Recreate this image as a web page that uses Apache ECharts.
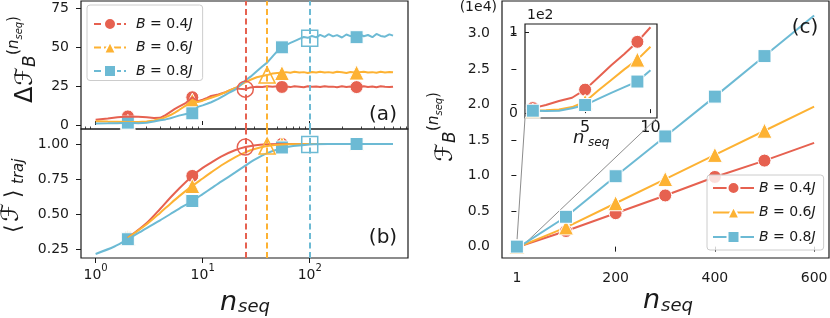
<!DOCTYPE html>
<html><head><meta charset="utf-8">
<script src="https://cdn.jsdelivr.net/npm/echarts@6/dist/echarts.min.js"></script>
<style>html,body{margin:0;padding:0;background:#fff}#c{width:830px;height:318px}</style>
</head><body><div id="c"></div>
<script>
// ---------------- DATA ----------------
const names = ['B = 0.4J', 'B = 0.6J', 'B = 0.8J'];

// panel (a): ΔF_B vs n_seq (shared n grid)
const nA = [1,1.3,1.6,2,2.5,3,3.5,4,4.5,5, 5.5,6,7,8,9,10,11,12,14,16, 18,20,22,25,28,32,36,40,45,50,
            55,60,66,72,80,88,96,105,115,125, 138,150,165,180,200,220,240,265,290,320, 350,385,420,460,505,555,600];
const aRed = [3.4,4.2,4.9,5.4,5.3,5.0,4.5,4.6,6.3,8.4, 10.3,11.8,14.2,17.8,15.3,16.2,17.4,18.6,19.6,20.8,
              22.4,23.6,23.3,23.0,24.1,24.6,24.3,24.8,24.5,24.9, 24.4,24.7,24.3,24.9,24.6,24.2,24.8,24.5,24.7,24.3,
              24.9,24.5,24.6,24.2,24.8,24.4,24.7,24.3,24.6,24.9, 24.4,24.7,24.2,24.8,24.5,24.3,24.6];
const aOrange = [2.4,2.2,2.1,2.0,2.0,2.2,2.9,3.8,5.0,6.4, 8.0,9.6,12.6,15.6,14.8,15.6,16.6,17.5,19.0,20.8,
                 22.4,23.6,25.0,27.4,29.0,30.6,31.4,32.0,33.0,33.4, 33.3,33.9,33.5,34.1,33.6,33.9,33.4,34.0,33.7,34.2,
                 33.6,33.9,33.5,34.1,33.8,33.4,34.0,33.6,33.9,34.2, 33.7,33.9,33.5,34.1,33.7,34.0,33.8];
const aBlue = [1.0,1.1,1.2,1.5,1.2,1.5,2.2,3.0,3.6,4.3, 5.2,6.0,7.0,7.5,11.6,12.6,13.6,14.6,16.8,19.0,
               21.0,22.6,25.0,28.5,31.0,34.5,37.5,40.0,44.0,47.5, 49.8,51.2,52.6,53.8,55.2,56.4,55.9,57.1,56.2,57.8,
               56.5,58.2,56.8,57.6,56.1,58.0,57.0,56.4,58.3,56.9, 57.7,56.3,58.4,57.1,56.6,58.1,57.3];
const markN = [2, 8, 55, 274];
const aMarkRed = [5.5, 17.8, 24.4, 24.3];
const aMarkOrange = [2.0, 15.6, 33.3, 33.6];
const aMarkBlue = [1.5, 7.5, 49.8, 56.3];
const critN = [25, 40, 100];          // red, orange, blue critical n_seq
const aCrit = [23.0, 32.0, 55.6];

// panel (b): <F>_traj vs n_seq
const bNRO = [2,3,4,5,6,8,10,12,15,20,25,30,40,55,100,274,600];
const bRed = [0.33,0.436,0.536,0.618,0.681,0.772,0.829,0.867,0.912,0.955,0.978,0.99,0.998,1.0,1.0,1.0,1.0];
const bOrange = [0.33,0.427,0.508,0.574,0.626,0.701,0.754,0.797,0.848,0.905,0.94,0.962,0.985,0.997,1.0,1.0,1.0];
const bNB = [1,1.5,2,3,4,5,6,8,10,12,15,20,25,30,40,55,70,100,150,274,600];
const bBlue = [0.215,0.268,0.32,0.40,0.455,0.50,0.537,0.593,0.642,0.683,0.733,0.795,0.845,0.885,0.935,0.97,0.985,0.997,1.0,1.0,1.0];
const bMarkRed = [0.33, 0.772, 1.0, 1.0];
const bMarkOrange = [0.33, 0.70, 1.0, 1.0];
const bMarkBlue = [0.32, 0.593, 0.975, 1.0];
const bCrit = [0.978, 0.985, 0.997];

// panel (c): F_B vs n_seq (inset uses the first ten points)
const cN = [1,2,3,4,5,6,7,8,9,10,100,200,300,400,500,600];
const cRed = [6.2,10,15,19,29,44,59,73,88,106,2200,4700,7200,9800,12100,14600];
const cOrange = [3,3.5,4.5,7.5,14,28,41,54,66,82,2700,6100,9500,12900,16300,19700];
const cBlue = [3,2.5,3,6,10,17.5,25,32,39,53,4200,9900,15500,21100,26800,32500];
const cMarkN = [1,100,200,300,400,500];
const insetMarkN = [1,5,9];

// ticks
const logMajor = [1, 10, 100];
const logMinor = [0.8,0.9,2,3,4,5,6,7,8,9,20,30,40,50,60,70,80,90,200,300,400,500,600,700,800];
const aTicks = [0, 25, 50, 75];
const bTicks = [0.25, 0.5, 0.75, 1.0];
const cXTicks = [1, 200, 400, 600];
const cYTicks = [0, 5000, 10000, 15000, 20000, 25000, 30000];
const insXTicks = [5, 10];
const insYTicks = [0, 100];

// ---------------- STYLE ----------------
const COL = ['#E66150', '#FDB233', '#6CBAD4'];
const SYM = ['circle', 'triangle', 'rect'];
const SYMSZ = [12, 14, 12];
const FONT = 'DejaVu Sans';
const TXT = '#1a1a1a';
const logMin = 0.73, logMax = 828;
const insetX = [0.4, 10.5], insetY = [-6, 110];

const pts = (ns, vs) => ns.map((n, i) => [n, vs[i]]);

function lineS(xi, yi, data, c, extra) {
  return Object.assign({type: 'line', xAxisIndex: xi, yAxisIndex: yi, data, symbol: 'none', showSymbol: false,
    lineStyle: {color: c, width: 2}, itemStyle: {color: c}, silent: true, animation: false}, extra || {});
}
function markS(xi, yi, data, k) {
  return {type: 'scatter', xAxisIndex: xi, yAxisIndex: yi, data, symbol: SYM[k], symbolSize: SYMSZ[k] + 1,
    itemStyle: {color: COL[k], borderColor: '#fff', borderWidth: 1, opacity: 1}, silent: true, animation: false};
}
function hollowS(xi, yi, vals) {
  const s = {type: 'scatter', xAxisIndex: xi, yAxisIndex: yi, symbolSize: 16, silent: true, animation: false, z: 5,
    data: critN.map((n, k) => ({value: [n, vals[k]], symbol: SYM[k],
      itemStyle: {color: 'rgba(255,255,255,0)', borderColor: COL[k], borderWidth: 1.5, opacity: 1}}))};
  s.markLine = {silent: true, symbol: 'none', label: {show: false}, animation: false,
    data: critN.map((n, k) => ({xAxis: n, lineStyle: {color: COL[k], width: 2, type: [6, 3.5]}}))};
  return s;
}
function tickAx(grid, type, min, max, vals, o) {
  return Object.assign({gridIndex: grid, type, min, max, splitLine: {show: false},
    axisLine: {show: false},
    axisTick: {show: true, customValues: vals, length: 5, lineStyle: {color: TXT, width: 1}},
    axisLabel: {show: true, customValues: vals, fontSize: 14, color: TXT, fontFamily: FONT, margin: 12}}, o || {});
}

const series = [];
// (a)
[aRed, aOrange, aBlue].forEach((v, k) => {
  series.push(lineS(0, 0, pts(nA, v), COL[k]));
  series.push(markS(0, 0, pts(markN, [aMarkRed, aMarkOrange, aMarkBlue][k]), k));
});
series.push(hollowS(0, 0, aCrit));
// (b)
[[bNRO, bRed], [bNRO, bOrange], [bNB, bBlue]].forEach((p, k) => {
  series.push(lineS(1, 1, pts(p[0], p[1]), COL[k], {smooth: 0.3}));
  series.push(markS(1, 1, pts(markN, [bMarkRed, bMarkOrange, bMarkBlue][k]), k));
});
series.push(hollowS(1, 1, bCrit));
// (c) main + inset
[cRed, cOrange, cBlue].forEach((v, k) => {
  series.push({type: 'line', name: names[k], xAxisIndex: 3, yAxisIndex: 2, animation: false, silent: true,
    symbol: SYM[k], symbolSize: SYMSZ[k] + 1, showSymbol: true,
    lineStyle: {color: COL[k], width: 2}, itemStyle: {color: COL[k], borderColor: '#fff', borderWidth: 1},
    data: cN.map((n, i) => cMarkN.includes(n) ? {value: [n, v[i]]} : {value: [n, v[i]], symbol: 'none'})});
});
[cRed, cOrange, cBlue].forEach((v, k) => {
  series.push({type: 'line', xAxisIndex: 4, yAxisIndex: 3, animation: false, silent: true, z: 6,
    symbol: SYM[k], symbolSize: SYMSZ[k] + 1, showSymbol: true,
    lineStyle: {color: COL[k], width: 2}, itemStyle: {color: COL[k], borderColor: '#fff', borderWidth: 1},
    data: cN.slice(0, 10).map((n, i) => insetMarkN.includes(n) ? {value: [n, v[i]]} : {value: [n, v[i]], symbol: 'none'})});
});

const legendFmt = nm => '{sp|}{i|B} = ' + nm.match(/[\d.]+/)[0] + '{i|J}';
const legendText = (sp) => ({fontSize: 14, color: TXT, fontFamily: FONT, lineHeight: 15,
  rich: {i: {fontStyle: 'italic', fontSize: 14, fontFamily: FONT, color: TXT, lineHeight: 15}, sp: {width: sp}}});
const border = {show: true, borderColor: '#1a1a1a', borderWidth: 1.2, backgroundColor: 'rgba(0,0,0,0)'};

const option = {
  animation: false,
  backgroundColor: '#fff',
  textStyle: {fontFamily: FONT},
  grid: [
    Object.assign({left: 81, top: 1, width: 327, height: 128, outerBoundsMode: 'none'}, border),
    Object.assign({left: 81, top: 129, width: 327, height: 129, outerBoundsMode: 'none'}, border),
    Object.assign({left: 502, top: 1, width: 327, height: 257, outerBoundsMode: 'none'}, border),
    Object.assign({left: 525, top: 24, width: 132, height: 94, outerBoundsMode: 'none'}, border, {backgroundColor: '#fff'})
  ],
  xAxis: [
    tickAx(0, 'log', logMin, logMax, logMajor, {axisLabel: {show: false},
      axisTick: {show: true, inside: true, customValues: logMajor, length: 4, lineStyle: {color: TXT}}}),
    tickAx(1, 'log', logMin, logMax, logMajor, {axisLabel: {show: true, customValues: logMajor, margin: 5, color: TXT,
      formatter: v => '{b|10}{s|' + Math.round(Math.log10(v)) + '}',
      rich: {b: {fontSize: 14, fontFamily: FONT, color: TXT, lineHeight: 19, verticalAlign: 'bottom'},
             s: {fontSize: 10, fontFamily: FONT, color: TXT, lineHeight: 12, verticalAlign: 'top'}}}}),
    tickAx(1, 'log', logMin, logMax, logMinor, {axisLabel: {show: false},
      axisTick: {show: true, customValues: logMinor, length: 2.5, lineStyle: {color: TXT, width: 0.8}}}),
    tickAx(2, 'value', -29, 630, cXTicks, {axisLabel: {customValues: cXTicks, fontSize: 14, color: TXT, fontFamily: FONT, margin: 13}}),
    tickAx(3, 'value', insetX[0], insetX[1], insXTicks, {axisLabel: {customValues: insXTicks, fontSize: 16, color: TXT, fontFamily: FONT, margin: 2},
      axisTick: {show: true, inside: true, customValues: insXTicks, length: 4, lineStyle: {color: TXT}}})
  ],
  yAxis: [
    tickAx(0, 'value', -2.56, 79.5, aTicks),
    tickAx(1, 'value', 0.186, 1.107, bTicks, {axisLabel: {customValues: bTicks, fontSize: 14, color: TXT, fontFamily: FONT, margin: 12,
      formatter: v => v.toFixed(2)}}),
    tickAx(2, 'value', -1600, 34550, cYTicks, {axisLabel: {customValues: cYTicks, fontSize: 14, color: TXT, fontFamily: FONT, margin: 12,
      formatter: v => (v / 1e4).toFixed(1)}}),
    tickAx(3, 'value', insetY[0], insetY[1], insYTicks, {axisLabel: {customValues: insYTicks, fontSize: 14, color: TXT, fontFamily: FONT, margin: 7,
      formatter: v => String(v / 100)},
      axisTick: {show: true, inside: true, customValues: insYTicks, length: 4, lineStyle: {color: TXT}}})
  ],
  legend: [
    {data: names, orient: 'vertical', left: 87, top: 5, itemWidth: 32, itemHeight: 15, itemGap: 8.5,
     padding: [11.5, 10, 2, 6], backgroundColor: 'rgba(255,255,255,0.8)', borderColor: '#cccccc', borderWidth: 1,
     borderRadius: 3, selectedMode: false, lineStyle: {type: [7, 3], width: 2},
     formatter: legendFmt, textStyle: legendText(5)},
    {data: names, orient: 'vertical', left: 707, top: 175, itemWidth: 41, itemHeight: 15, itemGap: 9.5,
     padding: [5.5, 8, 5.5, 5], backgroundColor: 'rgba(255,255,255,0.8)', borderColor: '#cccccc', borderWidth: 1,
     borderRadius: 3, selectedMode: false,
     formatter: legendFmt, textStyle: legendText(0)}
  ],
  series
};

const chart = echarts.init(document.getElementById('c'), null, {renderer: 'canvas'});
chart.setOption(option);

// ---------------- TEXT & ANNOTATIONS ----------------
function T(x, y, text, size, o) {
  return {type: 'text', x, y, z: 100, silent: true,
    style: Object.assign({text, fontSize: size, fontFamily: FONT, fill: TXT, align: 'left', verticalAlign: 'middle'}, o || {})};
}
const it = {fontStyle: 'italic'};
function rot(x, y, children) { return {type: 'group', x, y, rotation: Math.PI / 2, children}; }

const g = [];
// y label (a)
g.push(rot(35, 103, [T(0, -9, 'Δ', 24), T(17, -9, 'ℱ', 24), T(36, -4, 'B', 17, it),
  T(48, -21, '(', 15), T(54, -21, 'n', 15, it), T(63.5, -16, 'seq', 10, it), T(81, -21, ')', 15)]));
// y label (b)
g.push(rot(20, 233, [T(0, -6, '⟨', 22), T(11, -8, 'ℱ', 24), T(35, -6, '⟩', 22), T(49, -1, 'traj', 15, it)]));
// y label (c)
g.push(rot(455, 162, [T(0, -9, 'ℱ', 24), T(19, -4, 'B', 17, it),
  T(31, -21, '(', 15), T(37, -21, 'n', 15, it), T(46.5, -16, 'seq', 10, it), T(64, -21, ')', 15)]));
// x labels
g.push(T(220, 302.5, 'n', 27, it), T(238, 307.5, 'seq', 18, it));
g.push(T(643, 301, 'n', 27, it), T(661, 306, 'seq', 18, it));
g.push(T(573, 138, 'n', 18, it), T(588, 143, 'seq', 12, it));
// offsets, panel letters
g.push(T(497, 7, '(1e4)', 14, {align: 'right'}));
g.push(T(527, 15, '1e2', 14));
g.push(T(383, 115, '(a)', 20, {align: 'center'}));
g.push(T(383, 238, '(b)', 20, {align: 'center'}));
g.push(T(805, 28, '(c)', 20, {align: 'center'}));

// inset connector lines
const iLL = chart.convertToPixel({gridIndex: 3}, [insetX[0], insetY[0]]);
const iLR = chart.convertToPixel({gridIndex: 3}, [insetX[1], insetY[0]]);
const mLL = chart.convertToPixel({gridIndex: 2}, [insetX[0], insetY[0]]);
const mLR = chart.convertToPixel({gridIndex: 2}, [insetX[1], insetY[0]]);
const mUR = chart.convertToPixel({gridIndex: 2}, [insetX[1], insetY[1]]);
const gray = {stroke: '#8c8c8c', lineWidth: 1};
g.push({type: 'line', z: 1, silent: true, shape: {x1: iLL[0], y1: iLL[1], x2: mLL[0], y2: mLL[1]}, style: gray});
g.push({type: 'line', z: 1, silent: true, shape: {x1: iLR[0], y1: iLR[1], x2: mLR[0], y2: mLR[1]}, style: gray});
g.push({type: 'rect', z: 1, silent: true, shape: {x: mLL[0], y: mUR[1], width: mUR[0] - mLL[0], height: mLL[1] - mUR[1]},
  style: {stroke: '#8c8c8c', fill: 'none', lineWidth: 1}});

chart.setOption({graphic: g});
</script>
</body></html>
